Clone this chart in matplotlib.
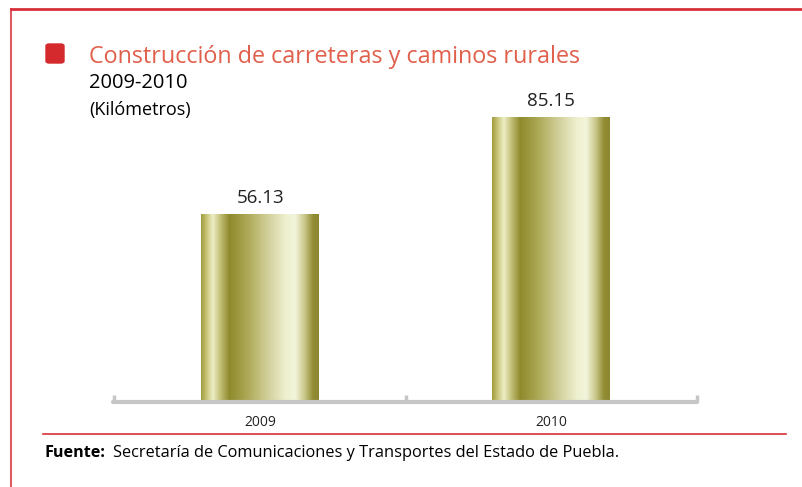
import matplotlib.pyplot as plt
import numpy as np
from matplotlib.colors import LinearSegmentedColormap
from matplotlib.lines import Line2D
from matplotlib.patches import FancyBboxPatch

# Datos
years = ['2009', '2010']
km = [56.13, 85.15]

title = 'Construcción de carreteras y caminos rurales'
subtitle = '2009-2010'
units = '(Kilómetros)'
source = 'Secretaría de Comunicaciones y Transportes del Estado de Puebla.'

red = '#d8303a'
gray = '#c6c6c6'

# gradiente dorado de las barras
gold = LinearSegmentedColormap.from_list('gold', [
    (0.00, '#a29d3e'), (0.05, '#cbc87e'), (0.10, '#eeeec6'),
    (0.16, '#c4c17a'), (0.24, '#8f8a2c'), (0.38, '#aaa652'),
    (0.56, '#d0ce97'), (0.72, '#eef0cf'), (0.80, '#f3f5dc'),
    (0.88, '#c9c78a'), (0.95, '#938e34'), (1.00, '#8b8630')])

plt.rcParams['font.family'] = ['Open Sans', 'DejaVu Sans']

fig = plt.figure(figsize=(8.02, 4.87), dpi=100)
ax = fig.add_axes([113 / 802, 85 / 487, 584 / 802, 334 / 487])

x = np.arange(len(years))
bars = ax.bar(x, km, width=0.405, color='none')
grad = np.linspace(0, 1, 256).reshape(1, -1)
for b, v in zip(bars, km):
    ax.imshow(grad, cmap=gold, aspect='auto', zorder=2,
              extent=(b.get_x(), b.get_x() + b.get_width(), 0, b.get_height()))
    ax.text(b.get_x() + b.get_width() / 2, v + 2.2, f'{v:.2f}',
            ha='center', va='bottom', fontsize=13.5, color='#222222')

ax.set_xlim(-0.505, 1.5)
ax.set_ylim(0, 100)
for s in ['left', 'right', 'top']:
    ax.spines[s].set_visible(False)
ax.spines['bottom'].set_color(gray)
ax.spines['bottom'].set_linewidth(3)
ax.spines['bottom'].set_capstyle('round')
ax.set_yticks([])
ax.set_xticks(x)
ax.set_xticklabels(years, fontsize=10, color='#222222')
ax.tick_params(axis='x', which='major', length=0, pad=9)
ax.set_xticks([-0.5, 0.5, 1.5], minor=True)
ax.tick_params(axis='x', which='minor', direction='in', length=5, width=2.5, color=gray)

# marco rojo
fig.add_artist(Line2D([11 / 802, 11 / 802], [0, 1 - 9 / 487], color=red, lw=1.5, alpha=0.8))
fig.add_artist(Line2D([11 / 802, 1], [1 - 9 / 487, 1 - 9 / 487], color=red, lw=2))
fig.add_artist(Line2D([43 / 802, 786 / 802], [1 - 434 / 487, 1 - 434 / 487], color=red, lw=1.2))

# titulo
fig.add_artist(FancyBboxPatch((46 / 802, 1 - 63 / 487), 18 / 802, 19 / 487,
                              boxstyle='round,pad=0,rounding_size=0.004',
                              color='#d42a2e', transform=fig.transFigure))
fig.text(89 / 802, 1 - 63 / 487, title, fontsize=16.8, color='#e0604c', va='baseline')
fig.text(89 / 802, 1 - 88 / 487, subtitle, fontsize=14.5, color='black', va='baseline')
fig.text(89 / 802, 1 - 115 / 487, units, fontsize=13, color='black', va='baseline')

fig.text(45 / 802, 1 - 457 / 487, 'Fuente:', fontsize=11.6, fontweight='bold', va='baseline')
fig.text(113 / 802, 1 - 457 / 487, source, fontsize=11.8, va='baseline')

fig.savefig('out.png', dpi=100)
